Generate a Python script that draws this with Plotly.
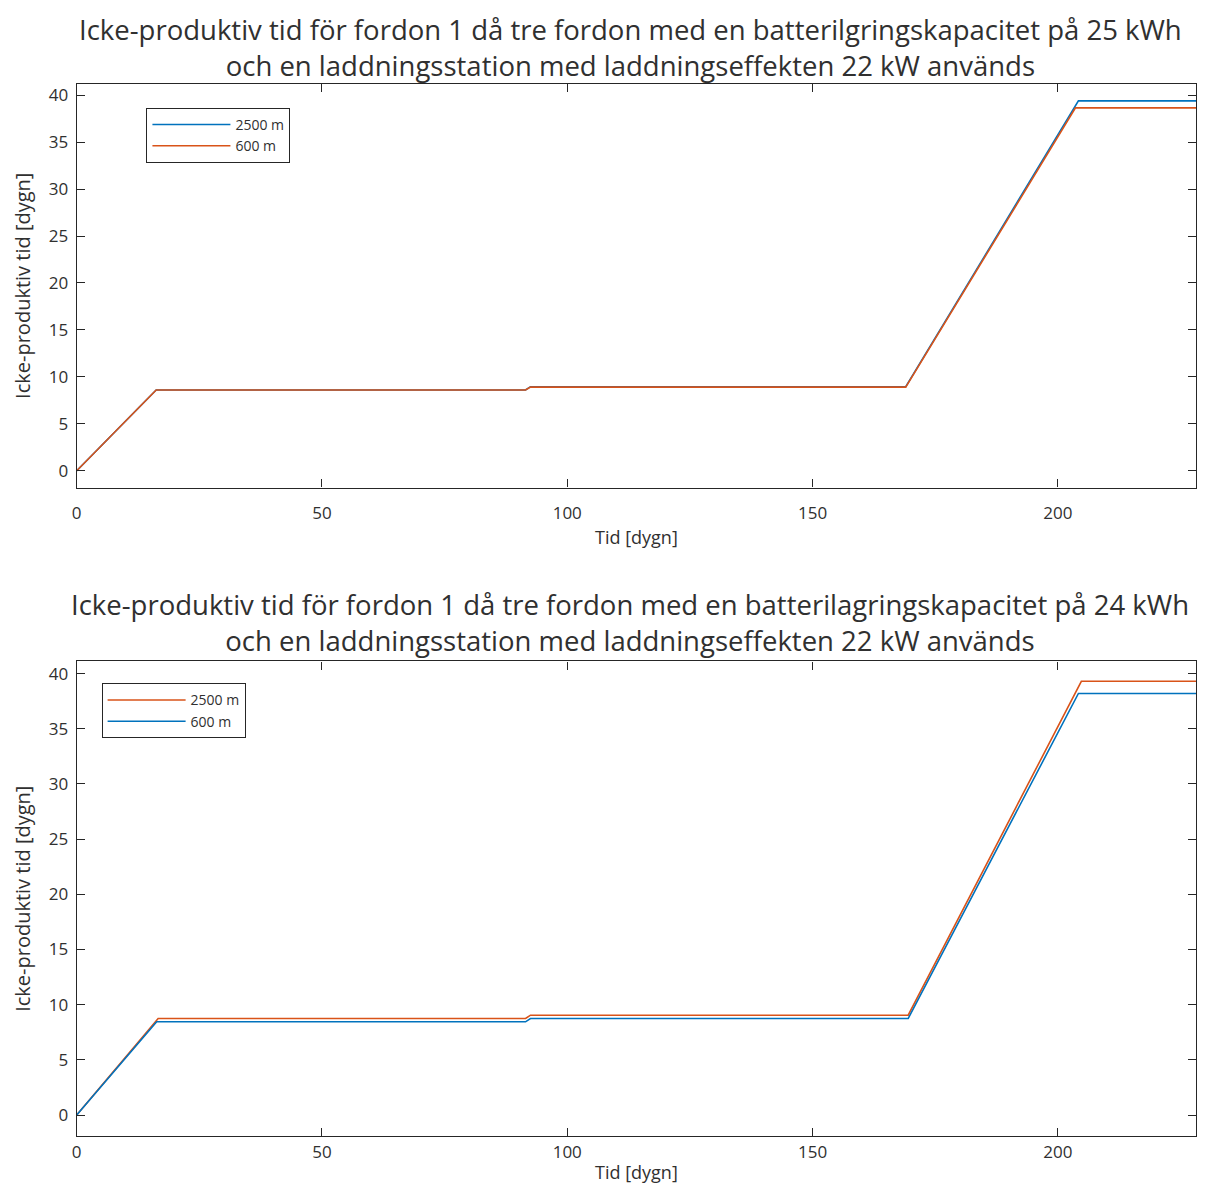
import plotly.graph_objects as go

# ---------------- data ----------------
# Top panel (25 kWh)
top_x_2500 = [0, 16.2, 91.5, 92.5, 169.0, 204.2, 228.2]
top_y_2500 = [0, 8.6, 8.6, 8.95, 8.95, 39.4, 39.4]
top_x_600 = [0, 16.2, 91.5, 92.5, 169.0, 203.6, 228.2]
top_y_600 = [0, 8.6, 8.6, 8.9, 8.9, 38.65, 38.65]

# Bottom panel (24 kWh)
bot_x_2500 = [0, 16.6, 91.5, 92.5, 169.5, 204.8, 228.2]
bot_y_2500 = [0, 8.75, 8.75, 9.05, 9.05, 39.3, 39.3]
bot_x_600 = [0, 16.3, 91.5, 92.5, 169.5, 204.2, 228.2]
bot_y_600 = [0, 8.45, 8.45, 8.75, 8.75, 38.2, 38.2]

series_names = ["2500 m", "600 m"]
x_ticks = [0, 50, 100, 150, 200]
y_ticks = [0, 5, 10, 15, 20, 25, 30, 35, 40]

title_top = ["Icke-produktiv tid för fordon 1 då tre fordon med en batterilgringskapacitet på 25 kWh",
             "och en laddningsstation med laddningseffekten 22 kW används"]
title_bot = ["Icke-produktiv tid för fordon 1 då tre fordon med en batterilagringskapacitet på 24 kWh",
             "och en laddningsstation med laddningseffekten 22 kW används"]
x_title = "Tid [dygn]"
y_title = "Icke-produktiv tid [dygn]"

BLUE = "#0072BD"
ORANGE = "#D95319"
FONT = "Open Sans"
TXT = "#303030"

fig = go.Figure()
fig.add_trace(go.Scatter(x=top_x_2500, y=top_y_2500, mode="lines", name=series_names[0],
                         line=dict(color=BLUE, width=1.6), xaxis="x", yaxis="y", legend="legend"))
fig.add_trace(go.Scatter(x=top_x_600, y=top_y_600, mode="lines", name=series_names[1],
                         line=dict(color=ORANGE, width=1.6), xaxis="x", yaxis="y", legend="legend"))
fig.add_trace(go.Scatter(x=bot_x_2500, y=bot_y_2500, mode="lines", name=series_names[0],
                         line=dict(color=ORANGE, width=1.6), xaxis="x2", yaxis="y2", legend="legend2"))
fig.add_trace(go.Scatter(x=bot_x_600, y=bot_y_600, mode="lines", name=series_names[1],
                         line=dict(color=BLUE, width=1.6), xaxis="x2", yaxis="y2", legend="legend2"))

W, H = 1230, 1200
xd = [72 / W, 1196 / W]

axis_common = dict(showline=True, mirror="ticks", linecolor="#262626", linewidth=1.2,
                   ticks="inside", ticklen=8, tickwidth=1, tickcolor="#262626",
                   showgrid=False, zeroline=False,
                   tickfont=dict(family=FONT, size=17, color=TXT))
yt = dict(ticklabelstandoff=4)

legend_common = dict(xanchor="left", yanchor="top", bordercolor="#262626", borderwidth=1,
                     bgcolor="white", font=dict(family=FONT, size=14), tracegroupgap=0,
                     itemwidth=78)

fig.update_layout(
    width=W, height=H,
    margin=dict(l=0, r=0, t=0, b=0),
    paper_bgcolor="white", plot_bgcolor="white",
    font=dict(family=FONT, color=TXT),
    xaxis=dict(domain=xd, range=[0, 228.2], tickvals=x_ticks, anchor="y", ticklabelstandoff=10,
               title=dict(text=x_title, font=dict(size=18, family=FONT), standoff=8), **axis_common),
    yaxis=dict(domain=[1 - 487 / H, 1 - 83 / H], range=[-1.8, 41.2], tickvals=y_ticks, anchor="x",
               title=dict(text=y_title, font=dict(size=20, family=FONT), standoff=12), **axis_common, **yt),
    xaxis2=dict(domain=xd, range=[0, 228.2], tickvals=x_ticks, anchor="y2", ticklabelstandoff=0,
                title=dict(text=x_title, font=dict(size=18, family=FONT), standoff=4), **axis_common),
    yaxis2=dict(domain=[1 - 1136 / H, 1 - 661 / H], range=[-1.9, 41.1], tickvals=y_ticks, anchor="x2",
                title=dict(text=y_title, font=dict(size=20, family=FONT), standoff=12), **axis_common, **yt),
    legend=dict(x=142 / W, y=1 - 107 / H, **legend_common),
    legend2=dict(x=97 / W, y=1 - 683 / H, **legend_common),
    showlegend=True,
)

annots = []
for lines, yy in ((title_top, 47), (title_bot, 622)):
    annots.append(dict(text="<br>".join(lines), x=628 / W, y=1 - yy / H, xref="paper", yref="paper",
                       xanchor="center", yanchor="middle", showarrow=False, align="center",
                       font=dict(family=FONT, size=27.5, color=TXT)))
fig.update_layout(annotations=annots)

fig.write_html("out.html")
